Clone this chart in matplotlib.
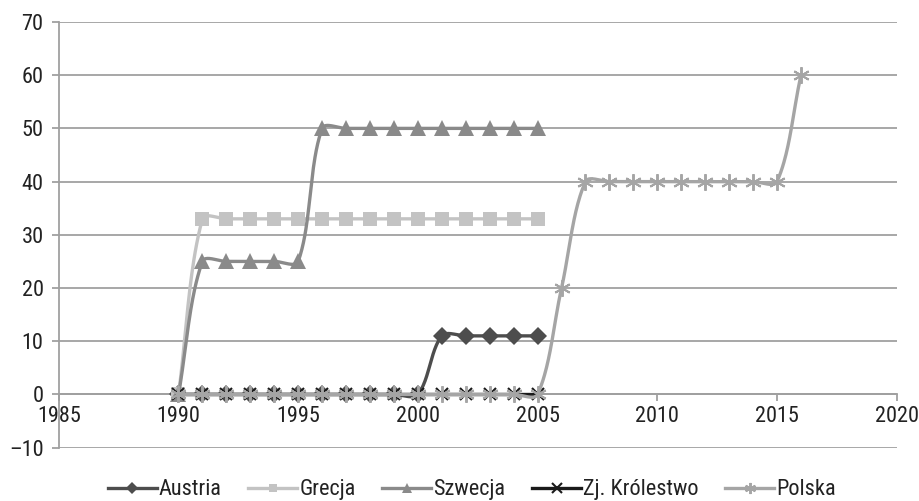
import numpy as np
import matplotlib
matplotlib.use("Agg")
import matplotlib.pyplot as plt
from matplotlib.lines import Line2D
from matplotlib.ticker import FixedLocator, FixedFormatter
from matplotlib import font_manager

# pick a narrow sans face if one is available
_faces = [(f.name, f.stretch) for f in font_manager.fontManager.ttflist]
_narrow = None
for cand in ['Liberation Sans Narrow', 'Roboto Condensed', 'Open Sans Condensed']:
    if any(n == cand for n, _ in _faces):
        _narrow = (cand, 'normal')
        break
if _narrow is None:
    for cand in ['Noto Sans', 'DejaVu Sans', 'Open Sans', 'Roboto']:
        if any(n == cand and str(s) in ('condensed', 'semi-condensed', 'extra-condensed') for n, s in _faces):
            _narrow = (cand, 'condensed')
            break
if _narrow is None:
    _narrow = ('Liberation Sans', 'normal')

plt.rcParams['font.family'] = [_narrow[0], 'DejaVu Sans']
plt.rcParams['font.stretch'] = _narrow[1]

# --- data ---
years_eu = list(range(1990, 2006))
austria = [0] * 11 + [11] * 5
grecja = [0] + [33] * 15
szwecja = [0] + [25] * 5 + [50] * 10
zj_krolestwo = [0] * 16

years_pl = list(range(1990, 2017))
polska = [0] * 16 + [20] + [40] * 9 + [60]

series_names = ['Austria', 'Grecja', 'Szwecja', 'Zj. Królestwo', 'Polska']

x_ticks = [1985, 1990, 1995, 2000, 2005, 2010, 2015, 2020]
y_ticks = [-10, 0, 10, 20, 30, 40, 50, 60, 70]
y_tick_labels = ['\u201310', '0', '10', '20', '30', '40', '50', '60', '70']

XMIN, XMAX, YMIN, YMAX = 1985, 2020, -10, 70
AX_RECT = [0.0639, 0.1066, 0.9108, 0.8495]
FIG_W, FIG_H = 920, 501


def smooth(xs, ys, n=40):
    """Smoothed curve through every point: cubic Bezier segments whose
    handles are weighted by neighbouring segment lengths on screen."""
    sx = AX_RECT[2] * FIG_W / (XMAX - XMIN)
    sy = AX_RECT[3] * FIG_H / (YMAX - YMIN)
    p = np.column_stack([np.asarray(xs, float) * sx, np.asarray(ys, float) * sy])
    ext = np.vstack([p[0], p, p[-1]])
    seglen = np.linalg.norm(np.diff(ext, axis=0), axis=1)
    out = []
    for i in range(len(p) - 1):
        p0, p1, p2, p3 = ext[i], ext[i + 1], ext[i + 2], ext[i + 3]
        d01, d12, d23 = seglen[i], seglen[i + 1], seglen[i + 2]
        w1 = 2 * d12 / (d01 + d12) if d01 + d12 > 0 else 1
        w2 = 2 * d12 / (d12 + d23) if d12 + d23 > 0 else 1
        c1 = p1 + (p2 - p0) / 6.0 * w1
        c2 = p2 - (p3 - p1) / 6.0 * w2
        t = np.linspace(0, 1, n)[:, None]
        seg = ((1 - t) ** 3) * p1 + 3 * ((1 - t) ** 2) * t * c1 + 3 * (1 - t) * t ** 2 * c2 + t ** 3 * p2
        out.append(seg if i == 0 else seg[1:])
    s = np.vstack(out)
    return s[:, 0] / sx, s[:, 1] / sy


fig = plt.figure(figsize=(FIG_W / 100, FIG_H / 100), dpi=100)
ax = fig.add_axes(AX_RECT)

styles = [
    dict(color='#4d4d4d', marker='D', ms=9, mew=0, lms=6),
    dict(color='#c3c3c3', marker='s', ms=9.5, mew=0, lms=6),
    dict(color='#8a8a8a', marker='^', ms=11, mew=0, lms=7),
    dict(color='#1a1a1a', marker='x', ms=8, mew=1.5, lms=7),
    dict(color='#a5a5a5', marker=(6, 2, 0), ms=12, mew=1.4, lms=8),
]
data = [
    (years_eu, austria),
    (years_eu, grecja),
    (years_eu, szwecja),
    (years_eu, zj_krolestwo),
    (years_pl, polska),
]

handles = []
for (xs, ys), st, name in zip(data, styles, series_names):
    cx, cy = smooth(xs, ys)
    ax.plot(cx, cy, color=st['color'], lw=2.4, solid_capstyle='round', zorder=3)
    ax.plot(xs, ys, linestyle='none', marker=st['marker'], ms=st['ms'],
            color=st['color'], mec=st['color'], mew=st['mew'], zorder=3)
    handles.append(Line2D([], [], color=st['color'], lw=2.4, marker=st['marker'],
                          ms=st['lms'], mec=st['color'], mew=st['mew'], label=name))

ax.set_xlim(XMIN, XMAX)
ax.set_ylim(YMIN, YMAX)

grid_col = '#a0a0a0'
ax.yaxis.set_major_locator(FixedLocator(y_ticks))
ax.yaxis.set_major_formatter(FixedFormatter(y_tick_labels))
ax.xaxis.set_major_locator(FixedLocator(x_ticks))
ax.set_xticklabels([str(v) for v in x_ticks])
ax.grid(axis='y', color=grid_col, lw=1.3, zorder=0)
ax.set_axisbelow(True)

for s in ['top', 'right']:
    ax.spines[s].set_visible(False)
ax.spines['bottom'].set_position(('data', 0))
ax.spines['bottom'].set_color(grid_col)
ax.spines['bottom'].set_linewidth(1.3)
ax.spines['left'].set_color(grid_col)
ax.spines['left'].set_linewidth(1.3)

ax.tick_params(axis='x', direction='out', length=5, width=1.3, color=grid_col,
               labelsize=16, labelcolor='#222222', pad=3)
ax.tick_params(axis='y', direction='out', length=5, width=1.3, color=grid_col,
               labelsize=16, labelcolor='#222222', pad=6)

fig.legend(handles=handles, loc='center', bbox_to_anchor=(472 / FIG_W, 0.022), ncol=5,
           frameon=False, fontsize=16, handlelength=2.2, handletextpad=0.1,
           columnspacing=1.2, labelcolor='#222222')

fig.savefig('out.png', dpi=100)
